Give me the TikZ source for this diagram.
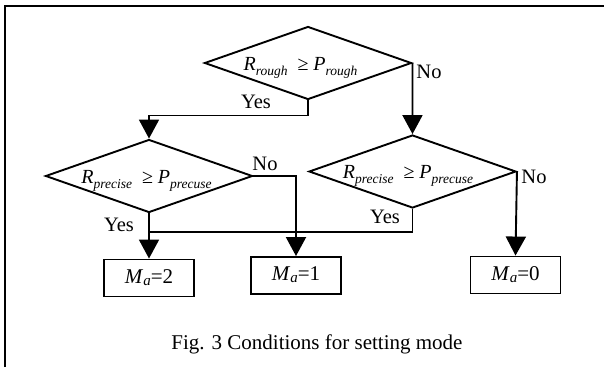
\documentclass[tikz,border=0pt]{standalone}
\usepackage{fontspec}
\setmainfont{Liberation Serif}
\usetikzlibrary{shapes.geometric,arrows.meta}
\newcommand{\lowsub}[1]{\raisebox{-5pt}{\fontsize{13.5}{14}\selectfont\itshape #1}}
\newcommand{\modeval}[1]{\textit{M}\raisebox{-2pt}{\fontsize{15}{16}\selectfont\itshape a}=#1}
\begin{document}
\begin{tikzpicture}[>={Triangle[length=19pt,width=20pt]}, x=1pt, y=-1pt, line width=1.9pt,
  cond/.style={draw, diamond, aspect=2.84, minimum width=207pt, minimum height=73pt, inner sep=0pt,
    text height=14pt, text depth=0pt, font=\fontsize{20}{22}\selectfont},
  mode/.style={draw, rectangle, minimum width=90pt, minimum height=37pt, inner sep=0pt,
    text height=12pt, text depth=2pt, font=\fontsize{21}{23}\selectfont},
  lbl/.style={inner sep=0pt, font=\fontsize{20.5}{22}\selectfont}]
\useasboundingbox (0,0) rectangle (604,367);
\draw (5,367)--(5,6)--(604,6);

\node[cond] (rough) at (308,63) {\textit{R}\lowsub{rough}\ \ ≥ \textit{P}\lowsub{rough}\hspace*{15pt}};
\node[cond] (lprec) at (149,176) {\textit{R}\lowsub{precise}\ \ ≥ \textit{P}\lowsub{precuse}\hspace*{5pt}};
\node[cond] (rprec) at (412.5,171.5) {\textit{R}\lowsub{precise}\ \ ≥ \textit{P}\lowsub{precuse}\hspace*{9pt}};

\node[mode] (ma2) at (149,278) {\modeval{2}};
\node[mode] (ma1) at (296,275.5) {\modeval{1}};
\node[mode] (ma0) at (515.5,275) {\modeval{0}};

\node[lbl] (yes1) at (256,102) {Yes};
\node[lbl] (no1) at (429,72) {No};
\node[lbl] (no2) at (265,164) {No};
\node[lbl] (yes2) at (119,225) {Yes};
\node[lbl] (yes3) at (385,217) {Yes};
\node[lbl] (no3) at (534,177) {No};

\coordinate (join) at (lprec.south |- 0,232);
\draw[->] (rough.south)--++(0,15) -| (lprec.north);
\draw[->] (rough.east)--(rprec.north);
\draw[->] (lprec.south)--(ma2.north);
\draw[->] (lprec.east) -| (ma1.north);
\draw[->] (rprec.east)--(ma0.north);
\draw (rprec.south) |- (join);

\node[font=\fontsize{21}{24}\selectfont, inner sep=0pt] (cap) at (317,344) {Fig. 3 Conditions for setting mode};
\end{tikzpicture}
\end{document}
